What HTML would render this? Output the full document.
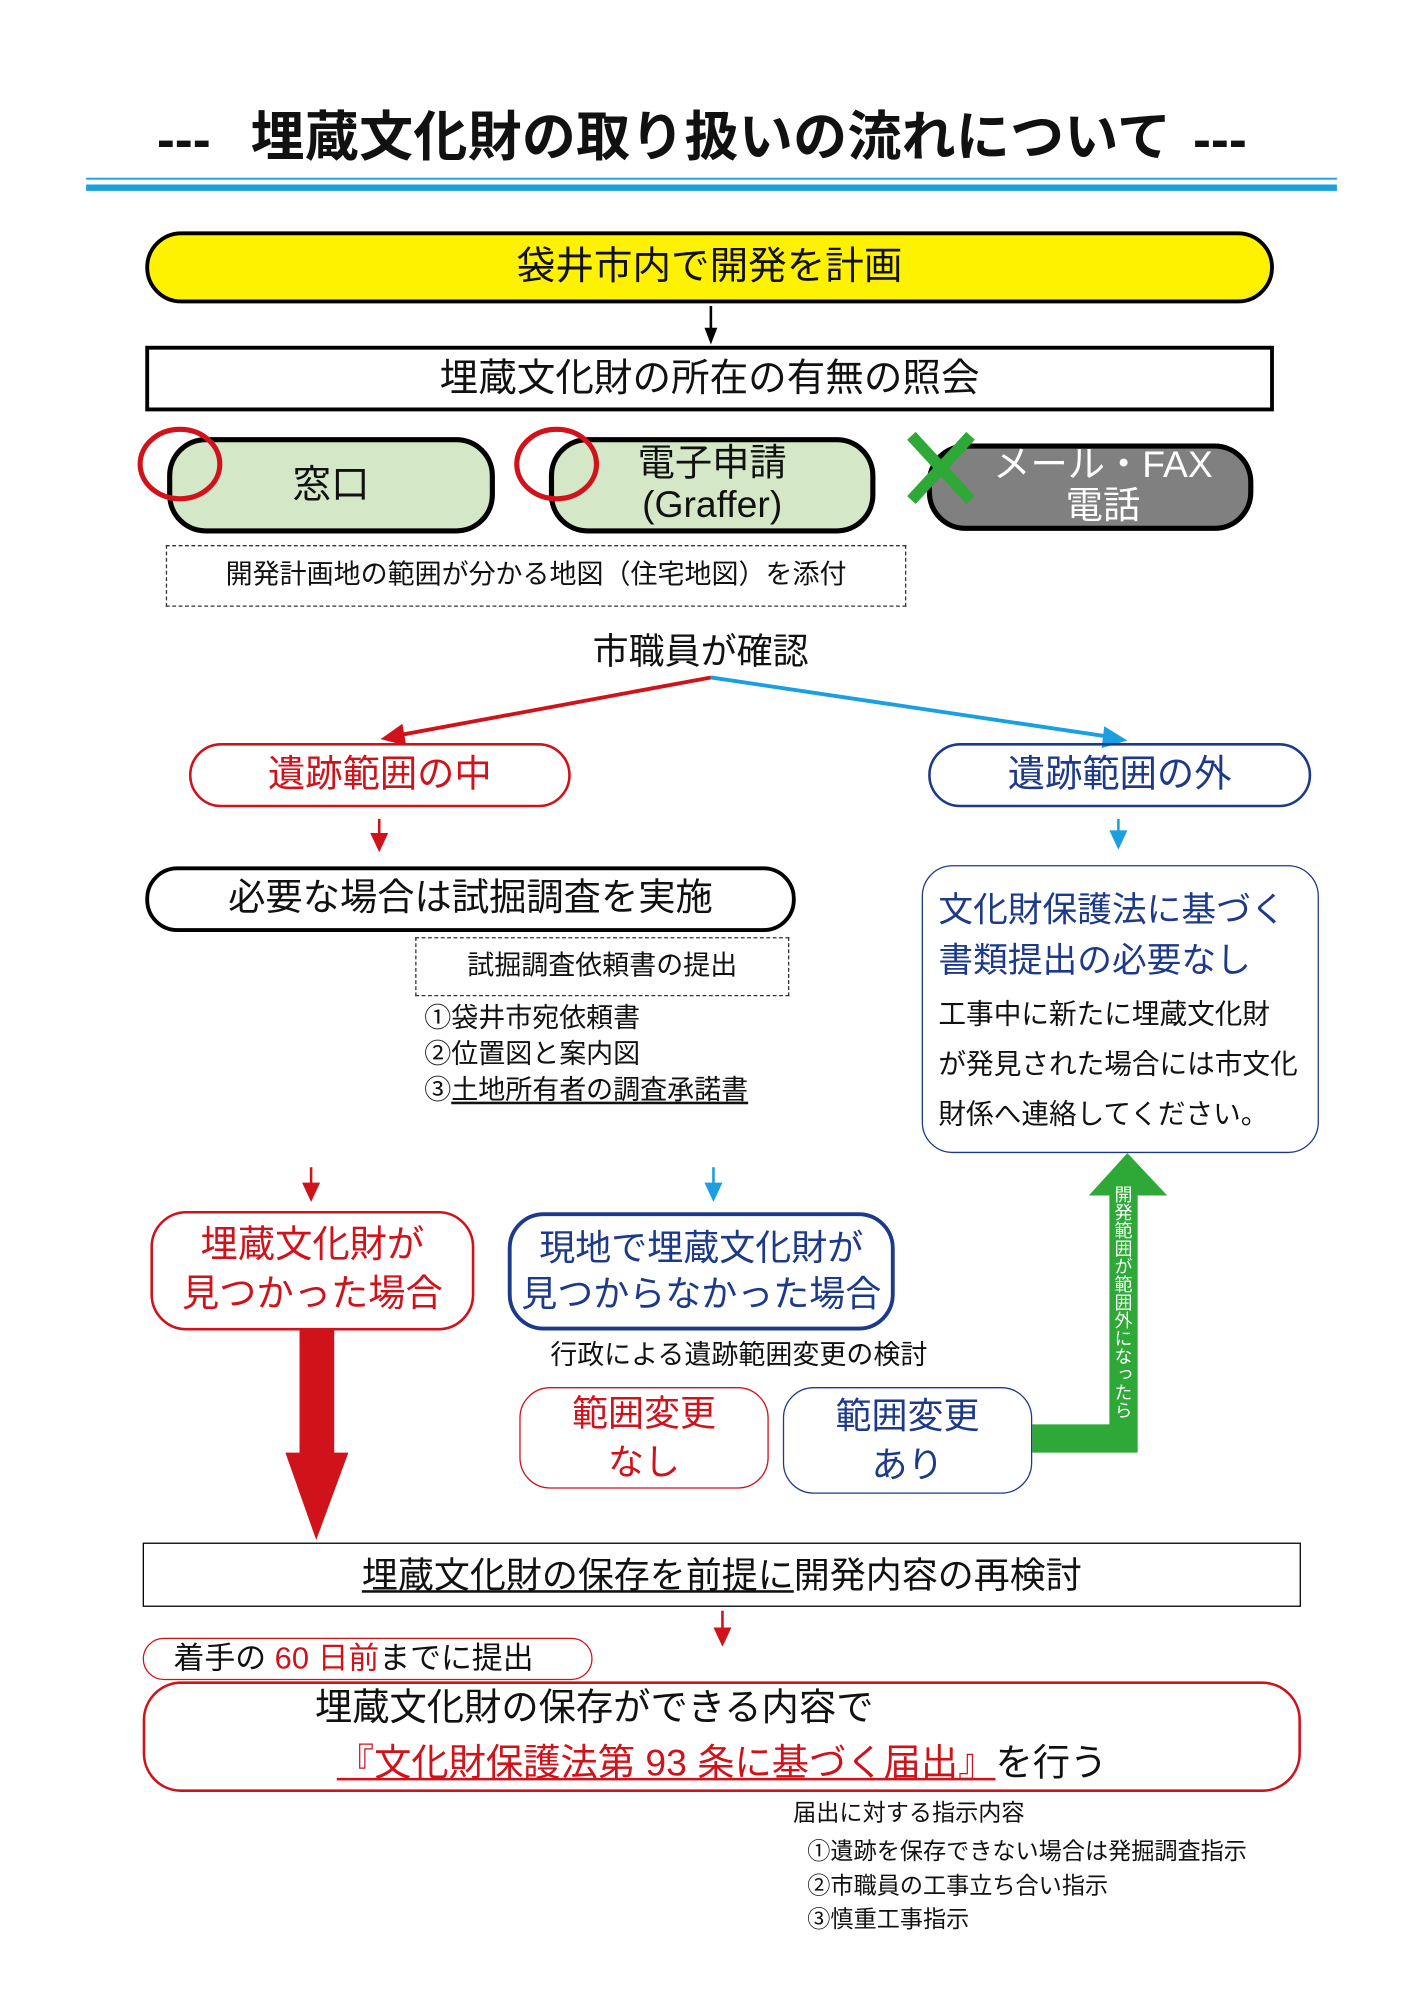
<!DOCTYPE html>
<html><head><meta charset="utf-8">
<style>
html,body{margin:0;padding:0;background:#fff;}
body{width:1414px;height:2000px;overflow:hidden;position:relative;}
#w{position:absolute;left:0;top:0;width:1100px;height:1556px;transform:scale(1.2855);transform-origin:0 0;font-family:"Liberation Sans","Noto Sans CJK JP",sans-serif;color:#111;}
#w div{position:absolute;box-sizing:border-box;}
.t{white-space:nowrap;line-height:1;}
.c{display:flex;align-items:center;justify-content:center;text-align:center;line-height:1.25;}
.red{color:#d0121b}.blue{color:#1d3a8a}
</style></head><body>
<div id="w">
<svg style="position:absolute;left:0;top:0" width="1100" height="1556">
 <line x1="67" y1="139" x2="1040" y2="139" stroke="#1aa0e0" stroke-width="1.5"/>
 <line x1="67" y1="146" x2="1040" y2="146" stroke="#1aa0e0" stroke-width="5"/>
 <line x1="553" y1="238" x2="553" y2="258" stroke="#000" stroke-width="2"/>
 <polygon points="548,255 558,255 553,268" fill="#000"/>
 <line x1="553" y1="527" x2="310" y2="572" stroke="#d0121b" stroke-width="3"/>
 <polygon points="296,575 313,563 316,580" fill="#d0121b"/>
 <line x1="553" y1="527" x2="862" y2="573" stroke="#1aa0e0" stroke-width="3"/>
 <polygon points="877,576 859,565 857,582" fill="#1aa0e0"/>
 <line x1="295" y1="637" x2="295" y2="650" stroke="#d0121b" stroke-width="2"/>
 <polygon points="288,648 302,648 295,663" fill="#d0121b"/>
 <line x1="870" y1="637" x2="870" y2="648" stroke="#1aa0e0" stroke-width="2"/>
 <polygon points="863,646 877,646 870,661" fill="#1aa0e0"/>
 <line x1="242" y1="908" x2="242" y2="922" stroke="#d0121b" stroke-width="2"/>
 <polygon points="235,920 249,920 242,935" fill="#d0121b"/>
 <line x1="555" y1="908" x2="555" y2="922" stroke="#1aa0e0" stroke-width="2"/>
 <polygon points="548,920 562,920 555,935" fill="#1aa0e0"/>
 <rect x="233" y="1035" width="27" height="96" fill="#d0121b"/>
 <polygon points="222,1130 271,1130 246,1198" fill="#d0121b"/>
 <polygon points="803,1108 863,1108 863,930 885,930 885,1130 803,1130" fill="#2ea836"/>
 <polygon points="847,930 908,930 877,897" fill="#2ea836"/>
 <line x1="562" y1="1253" x2="562" y2="1268" stroke="#d0121b" stroke-width="2"/>
 <polygon points="555,1266 569,1266 562,1281" fill="#d0121b"/>
</svg>

<div class="t" style="left:122px;top:88px;font-size:42px;font-weight:bold">---</div>
<div class="t" style="left:195px;top:86px;font-size:42px;font-weight:bold;letter-spacing:0.2px">埋蔵文化財の取り扱いの流れについて</div>
<div class="t" style="left:928px;top:88px;font-size:42px;font-weight:bold">---</div>

<div class="c" style="left:113px;top:180px;width:878px;height:56px;background:#fff200;border:3px solid #000;border-radius:28px;font-size:30px">袋井市内で開発を計画</div>
<div class="c" style="left:113px;top:269px;width:878px;height:51px;border:3px solid #000;font-size:30px">埋蔵文化財の所在の有無の照会</div>

<div class="c" style="left:130px;top:340px;width:255px;height:75px;background:#d4e8c8;border:4px solid #000;border-radius:30px;font-size:30px">窓口</div>
<div class="c" style="left:427px;top:340px;width:254px;height:75px;background:#d4e8c8;border:4px solid #000;border-radius:30px;font-size:29px;line-height:1.1">電子申請<br>(Graffer)</div>
<div class="c" style="left:721px;top:345px;width:254px;height:68px;background:#808080;color:#fff;border:4px solid #000;border-radius:30px;font-size:29px;line-height:1.1;padding-left:20px">メール・FAX<br>電話</div>
<svg style="position:absolute;left:0;top:0" width="1100" height="420">
 <ellipse cx="140" cy="361" rx="31" ry="27" fill="none" stroke="#d0121b" stroke-width="4"/>
 <ellipse cx="433" cy="361" rx="31" ry="27" fill="none" stroke="#d0121b" stroke-width="4"/>
 <line x1="709" y1="339" x2="755" y2="389" stroke="#2ea836" stroke-width="9"/>
 <line x1="755" y1="339" x2="709" y2="389" stroke="#2ea836" stroke-width="9"/>
</svg>
<div class="c" style="left:129px;top:424px;width:576px;height:48px;border:1.5px dashed #333;font-size:21px">開発計画地の範囲が分かる地図（住宅地図）を添付</div>

<div class="t" style="left:461px;top:493px;font-size:28px">市職員が確認</div>

<div class="c red" style="left:147px;top:578px;width:297px;height:50px;border:2px solid #d0121b;border-radius:25px;font-size:29px">遺跡範囲の中</div>
<div class="c blue" style="left:722px;top:578px;width:298px;height:50px;border:2px solid #1d3a8a;border-radius:25px;font-size:29px">遺跡範囲の外</div>

<div class="c" style="left:113px;top:674px;width:506px;height:51px;border:3px solid #000;border-radius:25px;font-size:29px">必要な場合は試掘調査を実施</div>
<div class="c" style="left:323px;top:729px;width:291px;height:46px;border:1.5px dashed #333;font-size:21px">試掘調査依頼書の提出</div>
<div class="t" style="left:330px;top:779px;font-size:21px;line-height:28px">①袋井市宛依頼書<br>②位置図と案内図<br>③<span style="text-decoration:underline">土地所有者の調査承諾書</span></div>

<div style="left:717px;top:673px;width:309px;height:224px;border:1.5px solid #1d3a8a;border-radius:24px"></div>
<div class="t blue" style="left:730px;top:689px;font-size:27px;line-height:39px">文化財保護法に基づく<br>書類提出の必要なし</div>
<div class="t" style="left:730px;top:770px;font-size:21.5px;line-height:39px">工事中に新たに埋蔵文化財<br>が発見された場合には市文化<br>財係へ連絡してください。</div>

<div class="c red" style="left:117px;top:942px;width:252px;height:93px;border:2px solid #d0121b;border-radius:28px;font-size:29px;line-height:1.3">埋蔵文化財が<br>見つかった場合</div>
<div class="c blue" style="left:395px;top:943px;width:301px;height:92px;border:3px solid #1d3a8a;border-radius:28px;font-size:28px;line-height:1.3">現地で埋蔵文化財が<br>見つからなかった場合</div>
<div class="t" style="left:428px;top:1044px;font-size:21px">行政による遺跡範囲変更の検討</div>
<div class="c red" style="left:404px;top:1079px;width:194px;height:79px;border:1.5px solid #d0121b;border-radius:24px;font-size:28px;line-height:1.35">範囲変更<br>なし</div>
<div class="c blue" style="left:609px;top:1079px;width:194px;height:83px;border:1.5px solid #1d3a8a;border-radius:24px;font-size:28px;line-height:1.35">範囲変更<br>あり</div>
<div class="t" style="left:866px;top:922px;width:16px;font-size:14px;color:#fff;writing-mode:vertical-rl;line-height:16px">開発範囲が範囲外になったら</div>

<div class="c" style="left:111px;top:1200px;width:901px;height:50px;border:1.5px solid #000;font-size:28px"><span><span style="text-decoration:underline">埋蔵文化財の保存を前提に</span>開発内容の再検討</span></div>

<div style="left:111px;top:1274px;width:350px;height:33px;border:1.5px solid #d0121b;border-radius:17px;background:#fff"></div>
<div class="t" style="left:135px;top:1279px;font-size:24px">着手の <span class="red">60 日前</span>までに提出</div>
<div style="left:111px;top:1308px;width:901px;height:86px;border:2px solid #d0121b;border-radius:30px"></div>
<div class="t" style="left:245px;top:1315px;font-size:29px">埋蔵文化財の保存ができる内容で</div>
<div class="t" style="left:262px;top:1358px;font-size:29px"><span class="red" style="text-decoration:underline">『文化財保護法第 93 条に基づく届出』</span>を行う</div>

<div class="t" style="left:617px;top:1401px;font-size:18px">届出に対する指示内容</div>
<div class="t" style="left:628px;top:1427px;font-size:18px;line-height:26.5px">①遺跡を保存できない場合は発掘調査指示<br>②市職員の工事立ち合い指示<br>③慎重工事指示</div>
</div>
</body></html>
